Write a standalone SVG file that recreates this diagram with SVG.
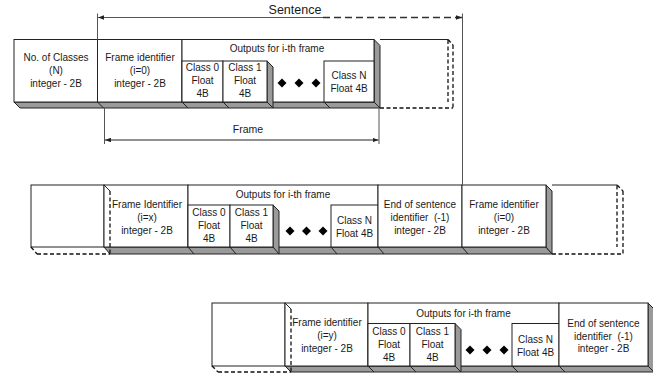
<svg xmlns="http://www.w3.org/2000/svg" width="653" height="373" viewBox="0 0 653 373">
<style>
text{font-family:"Liberation Sans",Arial,sans-serif;font-size:10px;fill:#1a1a1a;text-anchor:middle}
.f{fill:#fff;stroke:#222;stroke-width:1}
.g{fill:#9a9a9a;stroke:#222;stroke-width:1;stroke-linejoin:round}
.t{stroke:#222;stroke-width:1;fill:none}
.d{stroke:#111;stroke-width:1.3;stroke-dasharray:4 2.5;fill:none}
.c{stroke:#555;stroke-width:1;fill:none}
.cd{stroke:#333;stroke-width:1.3;stroke-dasharray:7 4;fill:none}
.dm{fill:#000}
</style>
<defs>
<marker id="ah" viewBox="0 0 8 6" refX="8" refY="3" markerWidth="6" markerHeight="4.5" markerUnits="userSpaceOnUse" orient="auto-start-reverse">
<path d="M0,0 L8,3 L0,6 Z" fill="#222"/>
</marker>
<path id="dia" d="M0,-4.5 L4.5,0 L0,4.5 L-4.5,0 Z"/>
</defs>

<!-- Row 1 -->
<g id="row1-base">
<polygon class="g" points="14,102 374,102 380,108 20,108"/>
<line class="t" x1="97.5" y1="102" x2="103.5" y2="108"/>
<line class="t" x1="182" y1="102" x2="188" y2="108"/>
<line class="t" x1="223" y1="102" x2="229" y2="108"/>
<line class="t" x1="324" y1="102" x2="330" y2="108"/>
<polygon class="g" points="374,39.5 380,45.5 380,108 374,102"/>
</g>
<g id="r1-classes">
<rect class="f" x="14" y="39.5" width="83.5" height="62.5"/>
<text x="56" y="61">No. of Classes</text>
<text x="56" y="74">(N)</text>
<text x="56" y="86.5">integer - 2B</text>
</g>
<g id="r1-frameid">
<rect class="f" x="97.5" y="39.5" width="84.5" height="62.5"/>
<text x="140" y="61">Frame identifier</text>
<text x="140" y="74">(i=0)</text>
<text x="140" y="86.5">integer - 2B</text>
</g>
<g id="r1-outputs">
<rect class="f" x="182" y="39.5" width="192" height="62.5"/>
<text x="277" y="51.5">Outputs for i-th frame</text>
</g>
<g id="r1-class0">
<rect class="f" x="182" y="61" width="41" height="41"/>
<text x="202.5" y="71">Class 0</text>
<text x="202.5" y="84">Float</text>
<text x="202.5" y="96.5">4B</text>
</g>
<g id="r1-class1">
<polygon class="g" points="267,61 273,67 273,108 267,102"/>
<rect class="f" x="223" y="61" width="44" height="41"/>
<text x="245" y="71">Class 1</text>
<text x="245" y="84">Float</text>
<text x="245" y="96.5">4B</text>
</g>
<g id="r1-dots">
<use href="#dia" class="dm" x="282" y="83"/>
<use href="#dia" class="dm" x="299" y="83"/>
<use href="#dia" class="dm" x="316" y="83"/>
</g>
<g id="r1-classN">
<rect class="f" x="324" y="61" width="50" height="41"/>
<text x="349" y="79">Class N</text>
<text x="349" y="92">Float 4B</text>
</g>
<g id="r1-next">
<line class="t" x1="380" y1="39.5" x2="448" y2="39.5"/>
<line class="d" x1="448" y1="39.5" x2="453" y2="45"/>
<line class="d" x1="448" y1="40" x2="448" y2="102"/>
<line class="d" x1="453" y1="45" x2="453" y2="108"/>
<line class="d" x1="380" y1="108" x2="453" y2="108"/>
</g>

<!-- Row 2 -->
<g id="row2-base">
<polygon class="g" points="104,247 546,247 552,254 110,254"/>
<line class="t" x1="188" y1="247" x2="194" y2="254"/>
<line class="t" x1="230" y1="247" x2="236" y2="254"/>
<line class="t" x1="331" y1="247" x2="337" y2="254"/>
<line class="t" x1="378" y1="247" x2="384" y2="254"/>
<line class="t" x1="462" y1="247" x2="468" y2="254"/>
<polygon class="g" points="546,185 552,191 552,254 546,247"/>
</g>
<g id="r2-prev">
<rect class="f" x="31" y="185" width="73" height="62"/>
</g>
<g id="r2-frameid">
<rect class="f" x="104" y="185" width="84" height="62"/>
<text x="147" y="207.5">Frame Identifier</text>
<text x="147" y="220.5">(i=x)</text>
<text x="147" y="233.5">integer - 2B</text>
</g>
<g id="r2-prev-hidden">
<line class="t" x1="104" y1="185" x2="110" y2="191"/>
<line class="d" x1="110" y1="191" x2="110" y2="254"/>
<line class="d" x1="31" y1="247" x2="37" y2="254"/>
<line class="d" x1="37" y1="254" x2="110" y2="254"/>
</g>
<g id="r2-outputs">
<rect class="f" x="188" y="185" width="190" height="62"/>
<text x="283" y="197.5">Outputs for i-th frame</text>
</g>
<g id="r2-class0">
<rect class="f" x="188" y="205" width="42" height="42"/>
<text x="209" y="216">Class 0</text>
<text x="209" y="229">Float</text>
<text x="209" y="241.5">4B</text>
</g>
<g id="r2-class1">
<polygon class="g" points="273,205 279,211 279,254 273,247"/>
<rect class="f" x="230" y="205" width="43" height="42"/>
<text x="251.5" y="216">Class 1</text>
<text x="251.5" y="229">Float</text>
<text x="251.5" y="241.5">4B</text>
</g>
<g id="r2-dots">
<use href="#dia" class="dm" x="290" y="231"/>
<use href="#dia" class="dm" x="306.5" y="231"/>
<use href="#dia" class="dm" x="323" y="231"/>
</g>
<g id="r2-classN">
<rect class="f" x="331" y="205" width="47" height="42"/>
<text x="354.5" y="224">Class N</text>
<text x="354.5" y="237">Float 4B</text>
</g>
<g id="r2-eos">
<rect class="f" x="378" y="185" width="84" height="62"/>
<text x="420" y="207.5">End of sentence</text>
<text x="420" y="220.5">identifier&#160; (-1)</text>
<text x="420" y="233.5">integer - 2B</text>
</g>
<g id="r2-frameid0">
<rect class="f" x="462" y="185" width="84" height="62"/>
<text x="504" y="207.5">Frame identifier</text>
<text x="504" y="220.5">(i=0)</text>
<text x="504" y="233.5">integer - 2B</text>
</g>
<g id="r2-next">
<line class="t" x1="552" y1="185" x2="617" y2="185"/>
<line class="d" x1="617" y1="185" x2="623" y2="191"/>
<line class="d" x1="617" y1="185.5" x2="617" y2="247"/>
<line class="d" x1="623" y1="191" x2="623" y2="254"/>
<line class="d" x1="552" y1="254" x2="623" y2="254"/>
</g>

<!-- Row 3 -->
<g id="row3-base">
<polygon class="g" points="285,366 648,366 654,372 291,372"/>
<line class="t" x1="368" y1="366" x2="374" y2="372"/>
<line class="t" x1="410" y1="366" x2="416" y2="372"/>
<line class="t" x1="512" y1="366" x2="518" y2="372"/>
<line class="t" x1="559" y1="366" x2="565" y2="372"/>
<polygon class="g" points="648,303 654,309 654,372 648,366"/>
</g>
<g id="r3-prev">
<rect class="f" x="212" y="303" width="73" height="63"/>
</g>
<g id="r3-frameid">
<rect class="f" x="285" y="303" width="83" height="63"/>
<text x="327" y="326">Frame identifier</text>
<text x="327" y="339">(i=y)</text>
<text x="327" y="352">integer - 2B</text>
</g>
<g id="r3-prev-hidden">
<line class="t" x1="285" y1="303" x2="291" y2="309"/>
<line class="d" x1="291" y1="309" x2="291" y2="372"/>
<line class="d" x1="212" y1="366" x2="218" y2="372"/>
<line class="d" x1="218" y1="372" x2="291" y2="372"/>
</g>
<g id="r3-outputs">
<rect class="f" x="368" y="303" width="191" height="63"/>
<text x="463.5" y="316.5">Outputs for i-th frame</text>
</g>
<g id="r3-class0">
<rect class="f" x="368" y="323.5" width="42" height="42.5"/>
<text x="389" y="335">Class 0</text>
<text x="389" y="348">Float</text>
<text x="389" y="360.5">4B</text>
</g>
<g id="r3-class1">
<polygon class="g" points="455,323.5 461,329.5 461,372 455,366"/>
<rect class="f" x="410" y="323.5" width="45" height="42.5"/>
<text x="432.5" y="335">Class 1</text>
<text x="432.5" y="348">Float</text>
<text x="432.5" y="360.5">4B</text>
</g>
<g id="r3-dots">
<use href="#dia" class="dm" x="470" y="350"/>
<use href="#dia" class="dm" x="487" y="350"/>
<use href="#dia" class="dm" x="504" y="350"/>
</g>
<g id="r3-classN">
<rect class="f" x="512" y="323.5" width="47" height="42.5"/>
<text x="535.5" y="343">Class N</text>
<text x="535.5" y="356">Float 4B</text>
</g>
<g id="r3-eos">
<rect class="f" x="559" y="303" width="89" height="63"/>
<text x="603.5" y="326.5">End of sentence</text>
<text x="603.5" y="339.5">identifier&#160; (-1)</text>
<text x="603.5" y="352">integer - 2B</text>
</g>

<!-- Connectors -->
<g id="connectors">
<line class="c" x1="97.5" y1="13.5" x2="97.5" y2="39.5"/>
<line class="c" x1="462.5" y1="13.5" x2="462.5" y2="185"/>
<line class="c" x1="98" y1="17.5" x2="323" y2="17.5" marker-start="url(#ah)"/>
<line class="cd" x1="323" y1="17.5" x2="462" y2="17.5" marker-end="url(#ah)"/>
<line class="c" x1="104.5" y1="108" x2="104.5" y2="144"/>
<line class="c" x1="379" y1="108" x2="379" y2="144"/>
<line class="t" x1="105" y1="140" x2="378.5" y2="140" marker-start="url(#ah)" marker-end="url(#ah)"/>
<text x="295" y="14" style="font-size:12.5px">Sentence</text>
<text x="248" y="133" style="font-size:10.5px">Frame</text>
</g>
</svg>
